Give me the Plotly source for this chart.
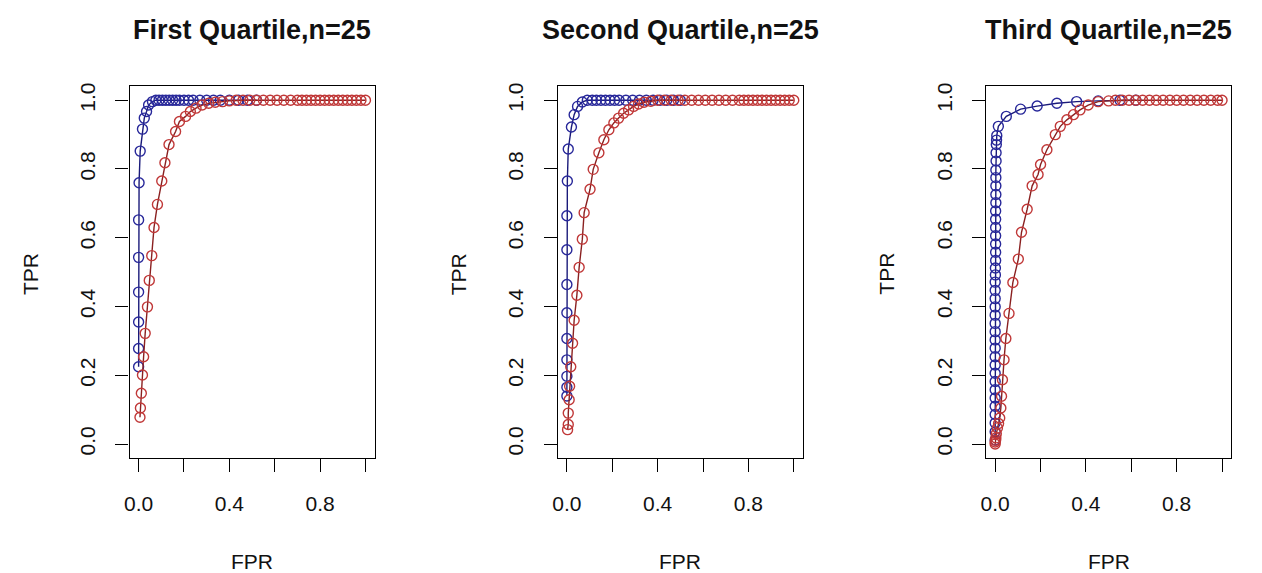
import plotly.graph_objects as go

# ---------------- data ----------------
titles = ["First Quartile,n=25", "Second Quartile,n=25", "Third Quartile,n=25"]
x_tick_vals = [0.0, 0.2, 0.4, 0.6, 0.8, 1.0]
x_tick_text = ["0.0", "", "0.4", "", "0.8", ""]
y_tick_vals = [0.0, 0.2, 0.4, 0.6, 0.8, 1.0]
y_tick_text = ["0.0", "0.2", "0.4", "0.6", "0.8", "1.0"]

# Panel 1 – First quartile
blue1_fpr = [0.0, 0.0, 0.0, 0.0, 0.0, 0.0, 0.002, 0.007, 0.017, 0.025, 0.035, 0.044,
             0.061, 0.076, 0.09, 0.105, 0.12, 0.135, 0.15, 0.165, 0.18, 0.20, 0.22,
             0.24, 0.27, 0.30, 0.33, 0.36, 0.40, 0.44, 0.48, 0.52]
blue1_tpr = [0.225, 0.278, 0.355, 0.442, 0.543, 0.652, 0.760, 0.852, 0.916, 0.948,
             0.967, 0.986, 0.996, 1.0, 1.0, 1.0, 1.0, 1.0, 1.0, 1.0, 1.0, 1.0, 1.0,
             1.0, 1.0, 1.0, 1.0, 1.0, 1.0, 1.0, 1.0, 1.0]
red1_fpr = [0.006, 0.008, 0.012, 0.017, 0.022, 0.029, 0.039, 0.047, 0.058, 0.068,
            0.083, 0.102, 0.116, 0.134, 0.163, 0.18, 0.207, 0.228, 0.253, 0.28,
            0.309, 0.338, 0.37, 0.40, 0.43, 0.46, 0.49, 0.52, 0.55, 0.58, 0.61,
            0.64, 0.67, 0.70, 0.72, 0.74, 0.76, 0.78, 0.80, 0.82, 0.84, 0.86,
            0.88, 0.90, 0.92, 0.94, 0.96, 0.98, 1.0]
red1_tpr = [0.078, 0.105, 0.148, 0.201, 0.254, 0.322, 0.399, 0.476, 0.548, 0.630,
            0.697, 0.765, 0.818, 0.871, 0.909, 0.938, 0.953, 0.967, 0.977, 0.986,
            0.991, 0.994, 0.996, 0.998, 1.0, 1.0, 1.0, 1.0, 1.0, 1.0, 1.0,
            1.0, 1.0, 1.0, 1.0, 1.0, 1.0, 1.0, 1.0, 1.0, 1.0, 1.0,
            1.0, 1.0, 1.0, 1.0, 1.0, 1.0, 1.0]

# Panel 2 – Second quartile
blue2_fpr = [0.0, 0.0, 0.0, 0.0, 0.0, 0.0, 0.0, 0.0, 0.0, 0.002, 0.006, 0.02, 0.032,
             0.047, 0.068, 0.09, 0.112, 0.13, 0.15, 0.17, 0.19, 0.21, 0.23, 0.26,
             0.29, 0.32, 0.35, 0.38, 0.41, 0.44, 0.47, 0.50]
blue2_tpr = [0.14, 0.165, 0.197, 0.245, 0.307, 0.382, 0.464, 0.565, 0.664, 0.765,
             0.858, 0.922, 0.958, 0.982, 0.995, 1.0, 1.0, 1.0, 1.0, 1.0, 1.0, 1.0,
             1.0, 1.0, 1.0, 1.0, 1.0, 1.0, 1.0, 1.0, 1.0, 1.0]
red2_fpr = [0.003, 0.006, 0.006, 0.010, 0.012, 0.017, 0.025, 0.032, 0.044, 0.054,
            0.068, 0.076, 0.102, 0.116, 0.141, 0.163, 0.185, 0.207, 0.228, 0.25,
            0.272, 0.294, 0.316, 0.34, 0.37, 0.40, 0.43, 0.46, 0.49, 0.52, 0.55,
            0.58, 0.61, 0.64, 0.67, 0.70, 0.73, 0.76, 0.78, 0.80, 0.82, 0.84,
            0.86, 0.88, 0.90, 0.92, 0.94, 0.96, 0.98, 1.0]
red2_tpr = [0.042, 0.057, 0.090, 0.129, 0.168, 0.225, 0.293, 0.360, 0.433, 0.514,
            0.596, 0.673, 0.741, 0.799, 0.847, 0.885, 0.914, 0.934, 0.948, 0.962,
            0.972, 0.982, 0.989, 0.994, 0.997, 1.0, 1.0, 1.0, 1.0, 1.0, 1.0,
            1.0, 1.0, 1.0, 1.0, 1.0, 1.0, 1.0, 1.0, 1.0, 1.0, 1.0,
            1.0, 1.0, 1.0, 1.0, 1.0, 1.0, 1.0, 1.0]

# Panel 3 – Third quartile
blue3_fpr = [0.0, 0.0, 0.0, 0.0, 0.0, 0.0, 0.0, 0.0, 0.0, 0.0, 0.0, 0.0, 0.0, 0.0,
             0.0, 0.0, 0.0, 0.0, 0.0, 0.0, 0.001, 0.001, 0.002, 0.002, 0.002, 0.002,
             0.002, 0.002, 0.002, 0.003, 0.003, 0.003, 0.003, 0.003, 0.004, 0.004,
             0.005, 0.006, 0.007, 0.014, 0.049, 0.112, 0.185, 0.272, 0.359, 0.454,
             0.55, 0.62]
blue3_tpr = [0.012, 0.036, 0.061, 0.086, 0.110, 0.134, 0.158, 0.182, 0.206, 0.230,
             0.254, 0.279, 0.303, 0.327, 0.351, 0.375, 0.399, 0.423, 0.447, 0.471,
             0.492, 0.512, 0.534, 0.558, 0.582, 0.606, 0.630, 0.654, 0.678, 0.702,
             0.726, 0.751, 0.775, 0.797, 0.823, 0.847, 0.871, 0.884, 0.897, 0.924,
             0.953, 0.974, 0.983, 0.991, 0.996, 0.998, 1.0, 1.0]
red3_fpr = [0.0, 0.0, 0.002, 0.003, 0.005, 0.010, 0.015, 0.020, 0.025, 0.028,
            0.032, 0.039, 0.047, 0.061, 0.078, 0.102, 0.116, 0.141, 0.163, 0.189,
            0.20, 0.228, 0.265, 0.287, 0.316, 0.345, 0.374, 0.41, 0.454, 0.50,
            0.53, 0.56, 0.59, 0.62, 0.65, 0.68, 0.71, 0.74, 0.77, 0.80, 0.83,
            0.86, 0.89, 0.92, 0.95, 0.98, 1.0]
red3_tpr = [0.0, 0.006, 0.011, 0.018, 0.030, 0.047, 0.060, 0.076, 0.105, 0.139,
            0.187, 0.245, 0.307, 0.380, 0.470, 0.538, 0.616, 0.683, 0.751, 0.784,
            0.813, 0.856, 0.900, 0.924, 0.943, 0.958, 0.972, 0.986, 0.996, 0.998,
            1.0, 1.0, 1.0, 1.0, 1.0, 1.0, 1.0, 1.0, 1.0, 1.0, 1.0,
            1.0, 1.0, 1.0, 1.0, 1.0, 1.0]

panels = [
    (blue1_fpr, blue1_tpr, red1_fpr, red1_tpr),
    (blue2_fpr, blue2_tpr, red2_fpr, red2_tpr),
    (blue3_fpr, blue3_tpr, red3_fpr, red3_tpr),
]

# ---------------- layout geometry ----------------
OFF = 8                      # default page margin of the HTML body
W, H = 1262 - OFF, 573 - OFF
FONT = "Liberation Sans, Arial, Helvetica, sans-serif"
box_left = [125, 555, 985]   # window pixels
box_w = 246
box_top, box_bottom = 83, 457


def px_x(px):
    return (px - OFF) / W


def px_y(py):
    return 1 - (py - OFF) / H


BLUE_LINE = "#1a1a7a"
BLUE_MARK = "#28289a"
RED_LINE = "#8a2020"
RED_MARK = "#c03838"

fig = go.Figure()
layout = dict(
    width=W, height=H,
    margin=dict(l=0, r=0, t=0, b=0),
    paper_bgcolor="white", plot_bgcolor="white",
    showlegend=False,
    font=dict(family=FONT, color="black"),
    annotations=[],
)

for i, (bx, by, rx, ry) in enumerate(panels):
    xa = "x" if i == 0 else f"x{i+1}"
    ya = "y" if i == 0 else f"y{i+1}"
    fig.add_trace(go.Scatter(
        x=bx, y=by, xaxis=xa, yaxis=ya, mode="lines+markers",
        line=dict(color=BLUE_LINE, width=1.4),
        marker=dict(symbol="circle-open", size=10, color=BLUE_MARK,
                    line=dict(width=1.4, color=BLUE_MARK)),
        hoverinfo="skip"))
    fig.add_trace(go.Scatter(
        x=rx, y=ry, xaxis=xa, yaxis=ya, mode="lines+markers",
        line=dict(color=RED_LINE, width=1.4),
        marker=dict(symbol="circle-open", size=10, color=RED_MARK,
                    line=dict(width=1.4, color=RED_MARK)),
        hoverinfo="skip"))

    x0 = px_x(box_left[i])
    x1 = px_x(box_left[i] + box_w)
    y0 = px_y(box_bottom)
    y1 = px_y(box_top)
    xkey = "xaxis" if i == 0 else f"xaxis{i+1}"
    ykey = "yaxis" if i == 0 else f"yaxis{i+1}"
    layout[xkey] = dict(
        domain=[x0, x1], anchor=ya, range=[-0.04, 1.04],
        tickmode="array", tickvals=x_tick_vals, ticktext=x_tick_text,
        ticks="outside", ticklen=13, tickwidth=1.2, tickcolor="black",
        showline=True, mirror=True, linecolor="black", linewidth=1.3,
        showgrid=False, zeroline=False, ticklabelstandoff=14,
        tickfont=dict(size=21, family=FONT, color="#111"), fixedrange=True)
    layout[ykey] = dict(
        domain=[y0, y1], anchor=xa, range=[-0.04, 1.04],
        tickmode="array", tickvals=y_tick_vals, ticktext=y_tick_text,
        tickangle=-90,
        ticks="outside", ticklen=13, tickwidth=1.2, tickcolor="black",
        showline=True, mirror=True, linecolor="black", linewidth=1.3,
        showgrid=False, zeroline=False, ticklabelstandoff=12,
        tickfont=dict(size=21, family=FONT, color="#111"), fixedrange=True)

    cx = px_x(box_left[i] + box_w / 2)
    layout["annotations"].append(dict(
        text=f"<b>{titles[i]}</b>", xref="paper", yref="paper",
        x=cx, y=px_y(26), xanchor="center", yanchor="middle",
        showarrow=False, font=dict(size=27, family=FONT, color="#111")))
    layout["annotations"].append(dict(
        text="FPR", xref="paper", yref="paper",
        x=cx, y=px_y(561), xanchor="center", yanchor="middle",
        showarrow=False, font=dict(size=21, family=FONT, color="#111")))
    layout["annotations"].append(dict(
        text="TPR", xref="paper", yref="paper",
        x=px_x(box_left[i] - 100), y=px_y(272), xanchor="center", yanchor="middle",
        textangle=-90,
        showarrow=False, font=dict(size=21, family=FONT, color="#111")))

fig.update_layout(**layout)
fig.write_html("out.html")
